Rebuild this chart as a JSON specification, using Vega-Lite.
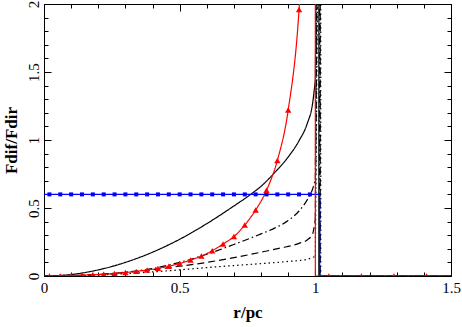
{
  "$schema": "https://vega.github.io/schema/vega-lite/v6.json",
  "width": 407,
  "height": 272,
  "autosize": {"type": "none"},
  "padding": {"left": 44, "top": 4, "right": 11, "bottom": 51},
  "background": "white",
  "config": {
    "view": {"stroke": "black", "strokeWidth": 1},
    "axis": {
      "grid": false,
      "domainColor": "black",
      "tickColor": "black",
      "labelColor": "black",
      "titleColor": "black",
      "labelFont": "Liberation Serif",
      "titleFont": "Liberation Serif",
      "labelFontSize": 15,
      "titleFontSize": 17,
      "titleFontWeight": "bold",
      "labelFlush": false,
      "labelOverlap": false,
      "tickSize": {"condition": {"test": "abs(datum.value*2-round(datum.value*2))<0.001", "value": -7}, "value": -4},
      "tickWidth": 1
    }
  },
  "datasets": {
    "lines": [
      {"g":"s","p":"a","i":0,"x":0,"y":0},{"g":"s","p":"a","i":1,"x":0.1,"y":0.011},{"g":"s","p":"a","i":2,"x":0.2,"y":0.045},{"g":"s","p":"a","i":3,"x":0.3,"y":0.1},{"g":"s","p":"a","i":4,"x":0.4,"y":0.175},{"g":"s","p":"a","i":5,"x":0.5,"y":0.27},{"g":"s","p":"a","i":6,"x":0.6,"y":0.385},{"g":"s","p":"a","i":7,"x":0.7,"y":0.515},{"g":"s","p":"a","i":8,"x":0.765,"y":0.605},{"g":"s","p":"a","i":9,"x":0.8,"y":0.66},{"g":"s","p":"a","i":10,"x":0.85,"y":0.76},{"g":"s","p":"a","i":11,"x":0.9,"y":0.875},{"g":"s","p":"a","i":12,"x":0.94,"y":0.995},{"g":"s","p":"a","i":13,"x":0.97,"y":1.12},{"g":"s","p":"a","i":14,"x":0.99,"y":1.27},{"g":"s","p":"a","i":15,"x":1.0,"y":1.44},
      {"g":"s","p":"b","i":0,"x":1.0,"y":1.44},{"g":"s","p":"b","i":1,"x":1.004,"y":2.5},{"g":"s","p":"b","i":2,"x":1.013,"y":2.5},{"g":"s","p":"b","i":3,"x":1.013,"y":0},{"g":"s","p":"b","i":4,"x":1.5,"y":0},
      {"g":"dd","p":"a","i":0,"x":0,"y":0},{"g":"dd","p":"a","i":1,"x":0.1,"y":0.003},{"g":"dd","p":"a","i":2,"x":0.2,"y":0.012},{"g":"dd","p":"a","i":3,"x":0.3,"y":0.028},{"g":"dd","p":"a","i":4,"x":0.4,"y":0.055},{"g":"dd","p":"a","i":5,"x":0.5,"y":0.1},{"g":"dd","p":"a","i":6,"x":0.6,"y":0.16},{"g":"dd","p":"a","i":7,"x":0.7,"y":0.232},{"g":"dd","p":"a","i":8,"x":0.8,"y":0.31},{"g":"dd","p":"a","i":9,"x":0.85,"y":0.352},{"g":"dd","p":"a","i":10,"x":0.9,"y":0.408},{"g":"dd","p":"a","i":11,"x":0.94,"y":0.478},{"g":"dd","p":"a","i":12,"x":0.97,"y":0.56},{"g":"dd","p":"a","i":13,"x":0.99,"y":0.64},{"g":"dd","p":"a","i":14,"x":1.0,"y":0.71},
      {"g":"dd","p":"b","i":0,"x":1.0,"y":0.71},{"g":"dd","p":"b","i":1,"x":1.006,"y":2.5},{"g":"dd","p":"b","i":2,"x":1.016,"y":2.5},{"g":"dd","p":"b","i":3,"x":1.016,"y":0},{"g":"dd","p":"b","i":4,"x":1.5,"y":0},
      {"g":"da","p":"a","i":0,"x":0,"y":0},{"g":"da","p":"a","i":1,"x":0.1,"y":0.002},{"g":"da","p":"a","i":2,"x":0.2,"y":0.01},{"g":"da","p":"a","i":3,"x":0.3,"y":0.025},{"g":"da","p":"a","i":4,"x":0.4,"y":0.046},{"g":"da","p":"a","i":5,"x":0.5,"y":0.072},{"g":"da","p":"a","i":6,"x":0.6,"y":0.1},{"g":"da","p":"a","i":7,"x":0.7,"y":0.135},{"g":"da","p":"a","i":8,"x":0.8,"y":0.175},{"g":"da","p":"a","i":9,"x":0.87,"y":0.205},{"g":"da","p":"a","i":10,"x":0.94,"y":0.24},{"g":"da","p":"a","i":11,"x":0.97,"y":0.265},{"g":"da","p":"a","i":12,"x":0.99,"y":0.31},{"g":"da","p":"a","i":13,"x":1.0,"y":0.42},
      {"g":"da","p":"b","i":0,"x":1.0,"y":0.42},{"g":"da","p":"b","i":1,"x":1.008,"y":2.5},{"g":"da","p":"b","i":2,"x":1.018,"y":2.5},{"g":"da","p":"b","i":3,"x":1.018,"y":0},{"g":"da","p":"b","i":4,"x":1.5,"y":0},
      {"g":"do","p":"a","i":0,"x":0,"y":0},{"g":"do","p":"a","i":1,"x":0.1,"y":0.002},{"g":"do","p":"a","i":2,"x":0.2,"y":0.008},{"g":"do","p":"a","i":3,"x":0.3,"y":0.017},{"g":"do","p":"a","i":4,"x":0.4,"y":0.03},{"g":"do","p":"a","i":5,"x":0.5,"y":0.045},{"g":"do","p":"a","i":6,"x":0.6,"y":0.062},{"g":"do","p":"a","i":7,"x":0.7,"y":0.077},{"g":"do","p":"a","i":8,"x":0.8,"y":0.091},{"g":"do","p":"a","i":9,"x":0.9,"y":0.107},{"g":"do","p":"a","i":10,"x":0.97,"y":0.123},{"g":"do","p":"a","i":11,"x":1.0,"y":0.145},
      {"g":"do","p":"b","i":0,"x":1.0,"y":0.145},{"g":"do","p":"b","i":1,"x":1.01,"y":2.5},{"g":"do","p":"b","i":2,"x":1.02,"y":2.5},{"g":"do","p":"b","i":3,"x":1.02,"y":0},{"g":"do","p":"b","i":4,"x":1.5,"y":0},
      {"g":"b","p":"b","i":0,"x":0,"y":0.6},{"g":"b","p":"b","i":1,"x":1.016,"y":0.6},{"g":"b","p":"b","i":2,"x":1.016,"y":0},{"g":"b","p":"b","i":3,"x":1.5,"y":0},
      {"g":"r","p":"a","i":0,"x":0,"y":0},{"g":"r","p":"a","i":1,"x":0.02,"y":0},{"g":"r","p":"a","i":2,"x":0.06,"y":0.001},{"g":"r","p":"a","i":3,"x":0.1,"y":0.003},{"g":"r","p":"a","i":4,"x":0.14,"y":0.006},{"g":"r","p":"a","i":5,"x":0.18,"y":0.009},{"g":"r","p":"a","i":6,"x":0.22,"y":0.013},{"g":"r","p":"a","i":7,"x":0.26,"y":0.019},{"g":"r","p":"a","i":8,"x":0.3,"y":0.026},{"g":"r","p":"a","i":9,"x":0.34,"y":0.034},{"g":"r","p":"a","i":10,"x":0.38,"y":0.044},{"g":"r","p":"a","i":11,"x":0.42,"y":0.056},{"g":"r","p":"a","i":12,"x":0.46,"y":0.072},{"g":"r","p":"a","i":13,"x":0.5,"y":0.092},{"g":"r","p":"a","i":14,"x":0.54,"y":0.117},{"g":"r","p":"a","i":15,"x":0.58,"y":0.147},{"g":"r","p":"a","i":16,"x":0.62,"y":0.186},{"g":"r","p":"a","i":17,"x":0.66,"y":0.235},{"g":"r","p":"a","i":18,"x":0.7,"y":0.29},{"g":"r","p":"a","i":19,"x":0.74,"y":0.375},{"g":"r","p":"a","i":20,"x":0.78,"y":0.485},{"g":"r","p":"a","i":21,"x":0.82,"y":0.63},{"g":"r","p":"a","i":22,"x":0.86,"y":0.85},{"g":"r","p":"a","i":23,"x":0.9,"y":1.22},{"g":"r","p":"a","i":24,"x":0.94,"y":1.96},{"g":"r","p":"a","i":25,"x":0.95,"y":2.3},{"g":"r","p":"a","i":26,"x":0.96,"y":2.8},
      {"g":"r","p":"b","i":0,"x":0.96,"y":2.8},{"g":"r","p":"b","i":1,"x":1.0,"y":3},{"g":"r","p":"b","i":2,"x":1.0,"y":0},{"g":"r","p":"b","i":3,"x":1.5,"y":0}
    ],
    "pts": [
      {"g":"b","x":0.02,"y":0.6},{"g":"b","x":0.06,"y":0.6},{"g":"b","x":0.1,"y":0.6},{"g":"b","x":0.14,"y":0.6},{"g":"b","x":0.18,"y":0.6},{"g":"b","x":0.22,"y":0.6},{"g":"b","x":0.26,"y":0.6},{"g":"b","x":0.3,"y":0.6},{"g":"b","x":0.34,"y":0.6},{"g":"b","x":0.38,"y":0.6},{"g":"b","x":0.42,"y":0.6},{"g":"b","x":0.46,"y":0.6},{"g":"b","x":0.5,"y":0.6},{"g":"b","x":0.54,"y":0.6},{"g":"b","x":0.58,"y":0.6},{"g":"b","x":0.62,"y":0.6},{"g":"b","x":0.66,"y":0.6},{"g":"b","x":0.7,"y":0.6},{"g":"b","x":0.74,"y":0.6},{"g":"b","x":0.78,"y":0.6},{"g":"b","x":0.82,"y":0.6},{"g":"b","x":0.86,"y":0.6},{"g":"b","x":0.9,"y":0.6},{"g":"b","x":0.94,"y":0.6},{"g":"b","x":0.98,"y":0.6},
      {"g":"r","x":0.02,"y":0},{"g":"r","x":0.06,"y":0.001},{"g":"r","x":0.1,"y":0.003},{"g":"r","x":0.14,"y":0.006},{"g":"r","x":0.18,"y":0.009},{"g":"r","x":0.22,"y":0.013},{"g":"r","x":0.26,"y":0.019},{"g":"r","x":0.3,"y":0.026},{"g":"r","x":0.34,"y":0.034},{"g":"r","x":0.38,"y":0.044},{"g":"r","x":0.42,"y":0.056},{"g":"r","x":0.46,"y":0.072},{"g":"r","x":0.5,"y":0.092},{"g":"r","x":0.54,"y":0.117},{"g":"r","x":0.58,"y":0.147},{"g":"r","x":0.62,"y":0.186},{"g":"r","x":0.66,"y":0.235},{"g":"r","x":0.7,"y":0.29},{"g":"r","x":0.74,"y":0.375},{"g":"r","x":0.78,"y":0.485},{"g":"r","x":0.82,"y":0.63},{"g":"r","x":0.86,"y":0.85},{"g":"r","x":0.9,"y":1.22},{"g":"r","x":0.94,"y":1.96},
      {"g":"r","x":1.05,"y":0},{"g":"r","x":1.17,"y":0},{"g":"r","x":1.29,"y":0},{"g":"r","x":1.41,"y":0}
    ]
  },
  "layer": [
    {
      "encoding": {
        "x": {"field": "x", "type": "quantitative", "title": "r/pc",
          "scale": {"domain": [0, 1.5], "nice": false, "zero": false},
          "axis": {"orient": "bottom",
            "values": [0,0.1,0.2,0.3,0.4,0.5,0.6,0.7,0.8,0.9,1,1.1,1.2,1.3,1.4,1.5],
            "labelExpr": "abs(datum.value*2-round(datum.value*2))<0.001 ? toString(round(datum.value*10)/10) : ''",
            "labelPadding": 11, "labelBaseline": "top", "titlePadding": 6}},
        "y": {"field": "y", "type": "quantitative", "title": "Fdif/Fdir",
          "scale": {"domain": [0, 2], "nice": false},
          "axis": {"orient": "left",
            "values": [0,0.1,0.2,0.3,0.4,0.5,0.6,0.7,0.8,0.9,1,1.1,1.2,1.3,1.4,1.5,1.6,1.7,1.8,1.9,2],
            "labelExpr": "abs(datum.value*2-round(datum.value*2))<0.001 ? toString(round(datum.value*10)/10) : ''",
            "labelAngle": -90, "labelAlign": "center", "labelBaseline": "bottom",
            "labelPadding": 10, "titlePadding": 3}},
        "color": {"field": "g", "type": "nominal", "legend": null,
          "scale": {"domain": ["s","dd","da","do","b","r"], "range": ["black","black","black","black","#0000ff","#ff0000"]}}
      },
      "layer": [
        {
          "data": {"name": "lines"},
          "transform": [{"filter": "datum.p == 'a'"}],
          "mark": {"type": "line", "clip": true, "strokeWidth": 1.2, "interpolate": "monotone"},
          "encoding": {
            "strokeDash": {"field": "g", "type": "nominal", "legend": null,
              "scale": {"domain": ["s","dd","da","do","b","r"], "range": [[1,0],[7,3,1.5,3],[7,4],[1.5,3],[1,0],[1,0]]}},
            "order": {"field": "i", "type": "quantitative"}
          }
        },
        {
          "data": {"name": "lines"},
          "transform": [{"filter": "datum.p == 'b'"}],
          "mark": {"type": "line", "clip": true, "strokeWidth": 1.2},
          "encoding": {
            "strokeDash": {"field": "g", "type": "nominal", "legend": null,
              "scale": {"domain": ["s","dd","da","do","b","r"], "range": [[1,0],[7,3,1.5,3],[7,4],[1.5,3],[1,0],[1,0]]}},
            "order": {"field": "i", "type": "quantitative"}
          }
        },
        {
          "data": {"name": "pts"},
          "transform": [{"filter": "datum.g == 'b'"}],
          "mark": {"type": "point", "shape": "square", "filled": true, "opacity": 1, "size": 16, "clip": true}
        },
        {
          "data": {"name": "pts"},
          "transform": [{"filter": "datum.g == 'r'"}],
          "mark": {"type": "point", "shape": "triangle-up", "filled": true, "opacity": 1, "size": 40, "clip": true}
        }
      ]
    },
    {
      "data": {"values": [{"x": 0, "y": 0}]},
      "mark": {"type": "point", "opacity": 0},
      "encoding": {
        "x": {"field": "x", "type": "quantitative",
          "scale": {"domain": [0, 1.5], "nice": false, "zero": false},
          "axis": {"orient": "top", "title": null, "labels": false,
            "values": [0,0.1,0.2,0.3,0.4,0.5,0.6,0.7,0.8,0.9,1,1.1,1.2,1.3,1.4,1.5]}},
        "y": {"field": "y", "type": "quantitative",
          "scale": {"domain": [0, 2], "nice": false},
          "axis": {"orient": "right", "title": null, "labels": false,
            "values": [0,0.1,0.2,0.3,0.4,0.5,0.6,0.7,0.8,0.9,1,1.1,1.2,1.3,1.4,1.5,1.6,1.7,1.8,1.9,2]}}
      }
    }
  ],
  "resolve": {"axis": {"x": "independent", "y": "independent"}}
}
